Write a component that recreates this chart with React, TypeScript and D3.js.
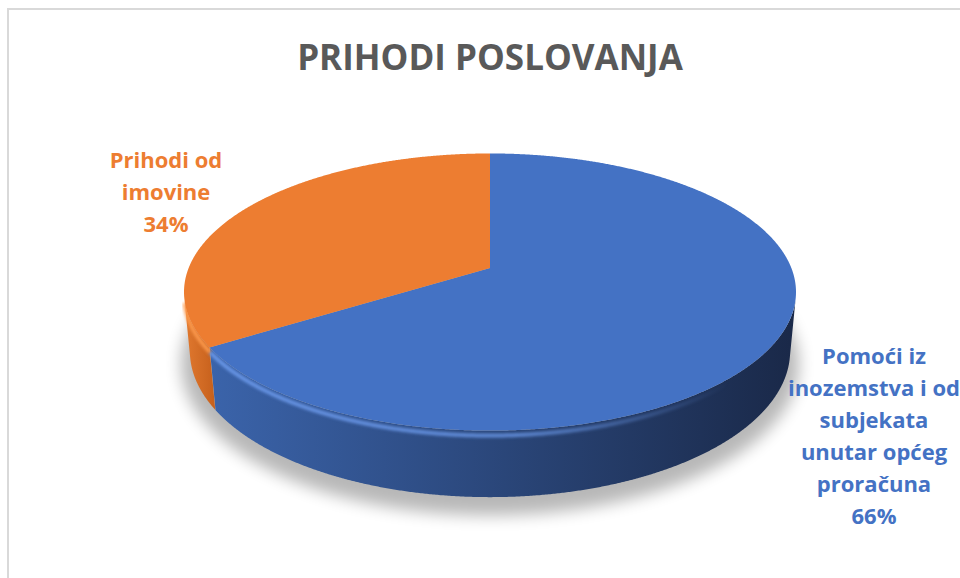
import React from "react";
import * as d3 from "d3";

const title = "PRIHODI POSLOVANJA";
const categories = [
  "Pomoći iz inozemstva i od subjekata unutar općeg proračuna",
  "Prihodi od imovine",
];
const values = [66, 34];
const labelLines = [
  ["Pomoći iz", "inozemstva i od", "subjekata", "unutar općeg", "proračuna"],
  ["Prihodi od", "imovine"],
];
const topColors = ["#4472c4", "#ed7d31"];
const sideLeft = ["#3b64ab", "#e27a30"];
const sideRight = ["#1a2949", "#c6601c"];
const rimColors = ["#6e9cee", "#ff9c50"];

const W = 960;
const H = 578;
const cx = 490;
const cy = 268;
const f = 1555;
const Dd = 5.16;
const sA = 0.446;
const cA = Math.sqrt(1 - sA * sA);
const depth = 0.22;

function proj(X: number, Y: number, Z: number): [number, number, number] {
  const xc = X;
  const yc = Y * cA - Z * sA;
  const zc = Y * sA + Z * cA;
  const k = f / (Dd - zc);
  return [cx + xc * k, cy - yc * k, zc];
}
const P = (th: number, Y: number, r = 1) => proj(Math.sin(th) * r, Y, -Math.cos(th) * r);

function frontFacing(th: number) {
  const a = P(th - 0.001, 0), b = P(th + 0.001, 0), c = P(th, -depth);
  const cr = (b[0] - a[0]) * (c[1] - a[1]) - (b[1] - a[1]) * (c[0] - a[0]);
  return cr < 0;
}

export default function App() {
  const pie = d3.pie<number>().sort(null).value((d) => d)(values);
  const total = d3.sum(values);
  const step = Math.PI / 720;

  const sides: string[] = pie.map((a) => {
    const ts: number[] = [];
    for (let t = a.startAngle; t <= a.endAngle + 1e-9; t += step) {
      const tt = Math.min(t, a.endAngle);
      if (frontFacing(tt)) ts.push(tt);
    }
    if (ts.length < 2) return "";
    const top = ts.map((t) => P(t, 0));
    const bot = ts.map((t) => P(t, -depth)).reverse();
    const pts = [...top, ...bot].map((p) => `${p[0].toFixed(2)},${p[1].toFixed(2)}`);
    return `M${pts.join("L")}Z`;
  });

  const topPaths = pie.map((a) => {
    const c = proj(0, 0, 0);
    const pts: string[] = [`M${c[0]},${c[1]}`];
    for (let t = a.startAngle; t <= a.endAngle + 1e-9; t += step) {
      const p = P(Math.min(t, a.endAngle), 0);
      pts.push(`L${p[0].toFixed(2)},${p[1].toFixed(2)}`);
    }
    const pe = P(a.endAngle, 0);
    pts.push(`L${pe[0]},${pe[1]}Z`);
    return pts.join("");
  });

  const rims = pie.map((a) => {
    const pts: [number, number][] = [];
    for (let t = a.startAngle; t <= a.endAngle + 1e-9; t += step) {
      const tt = Math.min(t, a.endAngle);
      if (!frontFacing(tt)) continue;
      const p = P(tt, -0.016, 1);
      pts.push([p[0], p[1]]);
    }
    return pts.length > 1 ? d3.line()(pts) || "" : "";
  });

  const shadowPts: [number, number][] = [];
  for (let t = 0; t < Math.PI * 2; t += step * 8) {
    const p = P(t, -depth - 0.02, 1.03);
    shadowPts.push([p[0], p[1] + 6]);
  }
  const shadowPath = d3.line().curve(d3.curveLinearClosed)(shadowPts) || "";

  const pct = values.map((v) => `${Math.round((v / total) * 100)}%`);
  const labelPos = [
    { x: 874, y: 364 },
    { x: 166, y: 168 },
  ];
  const lh = 32;

  return (
    <svg
      width={W}
      height={H}
      style={{ position: "absolute", left: 0, top: 0, background: "#fff" }}
    >
      <defs>
        <filter id="blurS" x="-20%" y="-30%" width="140%" height="160%">
          <feGaussianBlur stdDeviation="8" />
        </filter>
        <filter id="blurR" x="-10%" y="-50%" width="120%" height="200%">
          <feGaussianBlur stdDeviation="1.5" />
        </filter>
        {pie.map((_, i) => (
          <linearGradient
            key={i}
            id={`side${i}`}
            gradientUnits="userSpaceOnUse"
            x1={i === 0 ? 205 : 183}
            x2={i === 0 ? 790 : 215}
            y1={0}
            y2={0}
          >
            <stop offset="0" stopColor={sideLeft[i]} />
            <stop offset="1" stopColor={sideRight[i]} />
          </linearGradient>
        ))}
        <linearGradient id="rimFade" gradientUnits="userSpaceOnUse" x1={180} x2={790} y1={0} y2={0}>
          <stop offset="0" stopColor="#fff" stopOpacity="1" />
          <stop offset="0.55" stopColor="#fff" stopOpacity="0.85" />
          <stop offset="0.9" stopColor="#fff" stopOpacity="0" />
        </linearGradient>
        <mask id="rimMask">
          <rect x={0} y={0} width={W} height={H} fill="url(#rimFade)" />
        </mask>
      </defs>

      <line x1={8} y1={9} x2={W} y2={9} stroke="#d9d9d9" strokeWidth={2} />
      <line x1={8} y1={8} x2={8} y2={H} stroke="#d9d9d9" strokeWidth={2} />

      <text
        x={490}
        y={70}
        textAnchor="middle"
        fontFamily="'Open Sans', sans-serif"
        fontWeight={700}
        fontSize={35}
        fill="#595959"
      >
        {title}
      </text>

      <path d={shadowPath} fill="#000" opacity={0.28} filter="url(#blurS)" />

      {sides.map((d, i) => (d ? <path key={i} d={d} fill={`url(#side${i})`} /> : null))}

      <g mask="url(#rimMask)">
        {rims.map((r, i) =>
          r ? (
            <path
              key={i}
              d={r}
              fill="none"
              stroke={rimColors[i]}
              strokeWidth={4}
              strokeOpacity={0.9}
              filter="url(#blurR)"
            />
          ) : null
        )}
      </g>

      {topPaths.map((d, i) => (
        <path key={i} d={d} fill={topColors[i]} />
      ))}

      {labelLines.map((lines, i) => (
        <text
          key={categories[i]}
          textAnchor="middle"
          fontFamily="'Open Sans', sans-serif"
          fontWeight={700}
          fontSize={22}
          fill={topColors[i]}
        >
          {[...lines, pct[i]].map((l, j) => (
            <tspan key={j} x={labelPos[i].x} y={labelPos[i].y + j * lh}>
              {l}
            </tspan>
          ))}
        </text>
      ))}
    </svg>
  );
}
